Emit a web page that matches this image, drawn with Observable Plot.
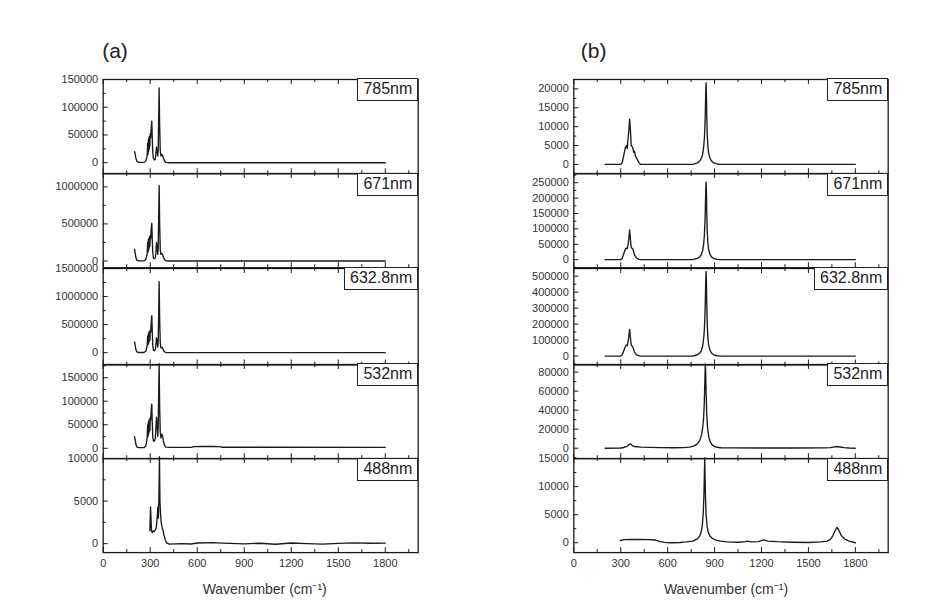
<!DOCTYPE html>
<html><head><meta charset="utf-8">
<script src="https://cdn.jsdelivr.net/npm/d3@7"></script>
<script src="https://cdn.jsdelivr.net/npm/@observablehq/plot@0.6"></script>
<style>
body{margin:0;background:#fff;}
#root{position:relative;width:934px;height:613px;overflow:hidden;font-family:"Liberation Sans",Arial,sans-serif;background:#fff;}
#root svg{position:absolute;}
.box{position:absolute;box-sizing:border-box;height:23px;border:1.3px solid #222;background:#fff;padding:0 5px;font-size:16px;line-height:20px;color:#222;white-space:nowrap;}
</style></head><body><div id="root"></div>
<script>
// ---------- data ----------
const panelLetters = ["(a)", "(b)"];
const wavelengths = ["785nm", "671nm", "632.8nm", "532nm", "488nm"];
const xTickLabels = [0, 300, 600, 900, 1200, 1500, 1800];
const xMinorTicks = [150, 450, 750, 1050, 1350, 1650, 1950];
const xDomain = [0, 2010];
const xTitle = "Wavenumber (cm⁻¹)";

// (a) spectra
const aX = [200, 203, 208, 215, 225, 260, 272, 280, 284, 286, 288, 290, 292, 294, 296, 298, 300, 303, 306, 310, 313, 316, 320, 326, 332, 336, 340, 344, 348, 351, 354, 357, 360, 364, 368, 373, 378, 384, 392, 400, 420, 1800];
const a785 = [20000, 17000, 9000, 2500, 500, 500, 3000, 12000, 35000, 15000, 42000, 20000, 46000, 25000, 48000, 30000, 52000, 45000, 62000, 75000, 45000, 20000, 8000, 5000, 6000, 15000, 28000, 22000, 12000, 25000, 80000, 135000, 70000, 22000, 12000, 15000, 14000, 8000, 3000, 500, 0, 0];
const a671 = [158000, 120000, 50000, 10000, 2000, 2000, 20000, 90000, 250000, 120000, 290000, 150000, 310000, 180000, 330000, 200000, 340000, 300000, 420000, 510000, 300000, 120000, 40000, 30000, 40000, 100000, 250000, 200000, 90000, 180000, 600000, 1020000, 520000, 150000, 90000, 100000, 95000, 50000, 15000, 3000, 0, 0];
const a632 = [189000, 150000, 60000, 12000, 2000, 2000, 25000, 110000, 300000, 140000, 340000, 170000, 370000, 200000, 385000, 220000, 400000, 360000, 520000, 660000, 380000, 140000, 45000, 35000, 50000, 120000, 265000, 210000, 100000, 200000, 700000, 1267000, 640000, 180000, 85000, 95000, 88000, 45000, 12000, 3000, 0, 0];
const a532X = [200, 203, 208, 215, 225, 260, 272, 280, 284, 286, 288, 290, 292, 294, 296, 298, 300, 303, 306, 310, 313, 316, 320, 326, 332, 336, 340, 344, 348, 351, 354, 357, 360, 364, 368, 373, 378, 384, 392, 400, 420, 560, 580, 640, 700, 740, 760, 1800];
const a532 = [24600, 20000, 9000, 3000, 1500, 1500, 5000, 20000, 50000, 25000, 56000, 30000, 60000, 35000, 62000, 38000, 65000, 60000, 80000, 94000, 55000, 25000, 16000, 15000, 20000, 40000, 66000, 50000, 25000, 45000, 120000, 180000, 90000, 35000, 22000, 30000, 28000, 15000, 6000, 2500, 2000, 2000, 3500, 3800, 4000, 3600, 2300, 2000];
const a488X = [298, 302, 305, 308, 312, 318, 325, 332, 338, 342, 346, 349, 352, 355, 359, 362, 366, 370, 376, 382, 388, 395, 405, 420, 500, 560, 600, 700, 760, 900, 1000, 1100, 1200, 1300, 1400, 1500, 1600, 1700, 1800];
const a488 = [1500, 4300, 3000, 1600, 1300, 1500, 1400, 1600, 1800, 2500, 3500, 4300, 3000, 5000, 10200, 5000, 3500, 2500, 1900, 1500, 1000, 500, 80, -60, 0, -40, 80, 120, 60, -30, 50, -70, 80, 0, -50, 40, 90, 50, 70];

// (b) spectra
const bX = [200, 300, 310, 320, 330, 337, 342, 347, 352, 357, 362, 367, 372, 377, 383, 388, 394, 400, 409, 418, 426, 440, 760, 790, 805, 815, 823, 830, 835, 839, 842, 844, 846, 848, 850, 853, 857, 862, 870, 880, 895, 915, 940, 1800];
const b785 = [0, 0, 500, 2500, 4500, 5000, 4200, 7000, 9000, 12000, 9000, 5000, 4800, 4400, 3200, 3500, 2200, 1800, 1000, 400, 0, 0, 0, 400, 900, 1500, 2500, 4500, 7000, 11000, 16000, 20000, 21600, 18000, 13000, 8000, 4800, 3000, 1700, 900, 400, 100, 0, 0];
const b671 = [0, 0, 5000, 20000, 35000, 38000, 36000, 50000, 70000, 97000, 65000, 40000, 37000, 36000, 25000, 15000, 11000, 6000, 2500, 1000, 0, 0, 0, 4000, 9000, 16000, 28000, 50000, 80000, 130000, 190000, 235000, 252000, 215000, 155000, 95000, 55000, 33000, 18000, 9000, 4000, 1000, 0, 0];
const b632 = [0, 0, 8000, 35000, 60000, 70000, 65000, 90000, 125000, 167000, 115000, 70000, 62000, 58000, 40000, 25000, 16000, 9000, 4000, 1500, 0, 0, 0, 8000, 18000, 33000, 58000, 105000, 170000, 275000, 400000, 495000, 530000, 455000, 330000, 200000, 115000, 70000, 38000, 19000, 8000, 2000, 0, 0];
const b532X = [200, 300, 320, 340, 352, 358, 362, 367, 372, 380, 390, 405, 430, 480, 560, 640, 700, 740, 770, 790, 805, 815, 823, 829, 833, 836, 839, 841, 843, 846, 850, 856, 863, 873, 885, 900, 916, 940, 1000, 1200, 1400, 1600, 1640, 1660, 1680, 1700, 1730, 1760, 1800];
const b532 = [0, 200, 800, 2000, 3500, 4200, 4600, 4000, 3000, 2200, 1800, 1500, 1200, 900, 700, 500, 600, 1200, 2500, 4500, 8000, 13000, 20000, 30000, 42000, 58000, 78000, 88500, 80000, 58000, 35000, 20000, 11600, 6500, 3500, 1800, 1000, 500, 300, 200, 200, 300, 600, 1200, 1800, 1300, 600, 200, 0];
const b488X = [298, 320, 360, 420, 480, 520, 550, 580, 620, 680, 720, 760, 790, 805, 815, 822, 828, 832, 835, 837, 839, 842, 846, 852, 860, 870, 885, 905, 937, 980, 1050, 1100, 1108, 1130, 1180, 1214, 1240, 1300, 1400, 1500, 1580, 1620, 1640, 1655, 1670, 1683, 1695, 1710, 1730, 1760, 1800];
const b488 = [400, 550, 600, 580, 550, 500, 200, 80, 0, 50, 150, 300, 700, 1200, 2000, 3200, 5500, 8500, 12500, 15100, 12000, 8000, 5000, 3000, 1800, 1200, 800, 500, 300, 150, 100, 200, 300, 150, 200, 500, 300, 200, 100, 50, 150, 300, 600, 1200, 2100, 2740, 2200, 1300, 700, 300, 0];

// y tick labels and axis ranges per panel
const aTicks = [[0, 50000, 100000, 150000], [0, 500000, 1000000], [0, 500000, 1000000, 1500000], [0, 50000, 100000, 150000], [0, 5000, 10000]];
const bTicks = [[0, 5000, 10000, 15000, 20000], [0, 50000, 100000, 150000, 200000, 250000], [0, 100000, 200000, 300000, 400000, 500000], [0, 20000, 40000, 60000, 80000], [0, 5000, 10000, 15000]];
const aRanges = [[-20000, 150000], [-90000, 1180000], [-220000, 1500000], [-22000, 178000], [-1050, 10000]];
const bRanges = [[-2500, 22500], [-26000, 280000], [-56000, 548000], [-11000, 88000], [-1750, 15000]];

const aSeries = [[aX, a785], [aX, a671], [aX, a632], [a532X, a532], [a488X, a488]];
const bSeries = [[bX, b785], [bX, b671], [bX, b632], [b532X, b532], [b488X, b488]];

// ---------- layout ----------
const rowEdges = [79, 173.3, 267.5, 364, 458.2, 552.3];
const cols = [
  {frameL: 102.7, frameR: 417.7, left: 0, width: 440, letterDx: -1, titleDx: 4, series: aSeries, ticks: aTicks, ranges: aRanges},
  {frameL: 573.3, frameR: 887.7, left: 467, width: 467, letterDx: 7, titleDx: -5, series: bSeries, ticks: bTicks, ranges: bRanges}
];
const root = document.getElementById("root");
const ink = "#1a1a1a";

cols.forEach((c, ci) => {
  for (let r = 0; r < 5; r++) {
    const mt = r === 0 ? 50 : 10;
    const mb = r === 4 ? 55 : 10;
    const innerH = rowEdges[r + 1] - rowEdges[r];
    const innerW = c.frameR - c.frameL;
    const [xs, ys] = c.series[r];
    const data = xs.map((x, i) => ({x, y: ys[i]}));
    const yt = c.ticks[r];
    const dom = c.ranges[r];
    const step = yt[1] - yt[0];
    const yMinor = [];
    for (let v = yt[0] - step / 2; v <= dom[1]; v += step) if (v >= dom[0]) yMinor.push(v);
    const marks = [
      Plot.frame({stroke: ink, strokeWidth: 1.3}),
      Plot.tickY(yt, {y: d => d, stroke: ink, insetRight: innerW - 5}),
      Plot.tickY(yMinor, {y: d => d, stroke: ink, insetRight: innerW - 3}),
      Plot.tickX(xTickLabels, {x: d => d, stroke: ink, insetTop: innerH - 5}),
      Plot.tickX(xMinorTicks, {x: d => d, stroke: ink, insetTop: innerH - 3}),
      Plot.tickX(xTickLabels, {x: d => d, stroke: ink, insetBottom: innerH - 5}),
      Plot.tickX(xMinorTicks, {x: d => d, stroke: ink, insetBottom: innerH - 3}),
      Plot.axisY({ticks: yt, tickSize: 0, tickPadding: 5, tickFormat: d => String(d), label: null, fill: "#333", fontSize: 11}),
      Plot.line(data, {x: "x", y: "y", stroke: "#1a1a1a", strokeWidth: 1.35})
    ];
    if (r === 0) {
      marks.push(Plot.text([panelLetters[ci]], {text: d => d, frameAnchor: "top-left", textAnchor: "start", lineAnchor: "middle", dx: c.letterDx, dy: -28, fontSize: 21, fill: "#222"}));
    }
    if (r === 4) {
      marks.push(Plot.axisX({ticks: xTickLabels, tickSize: 0, tickPadding: 7, tickFormat: d => String(d), label: null, fill: "#333", fontSize: 11}));
      marks.push(Plot.text([xTitle], {text: d => d, frameAnchor: "bottom", lineAnchor: "middle", dx: c.titleDx, dy: 37, fontSize: 14, fill: "#333"}));
    }
    const svg = Plot.plot({
      width: c.width,
      height: innerH + mt + mb,
      marginLeft: c.frameL - c.left,
      marginRight: c.left + c.width - c.frameR,
      marginTop: mt,
      marginBottom: mb,
      x: {domain: xDomain, axis: null},
      y: {domain: dom, axis: null},
      style: {fontFamily: "'Liberation Sans', Arial, sans-serif", fontSize: "11px", background: "transparent", overflow: "visible"},
      marks
    });
    svg.style.left = c.left + "px";
    svg.style.top = (rowEdges[r] - mt) + "px";
    root.appendChild(svg);

    const box = document.createElement("div");
    box.className = "box";
    box.textContent = wavelengths[r];
    box.style.right = (934 - c.frameR - 0.6) + "px";
    box.style.top = (rowEdges[r] - 0.6) + "px";
    root.appendChild(box);
  }
});
</script></body></html>
